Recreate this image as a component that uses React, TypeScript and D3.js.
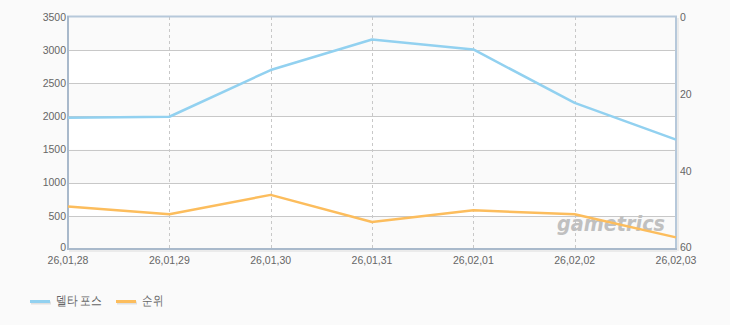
import React from "react";
import * as d3 from "d3";

const categories = ["26,01,28", "26,01,29", "26,01,30", "26,01,31", "26,02,01", "26,02,02", "26,02,03"];
const deltaForce = [1980, 1995, 2700, 3160, 3010, 2205, 1650];
const rank = [49, 51, 46, 53, 50, 51, 57];
const leftTicks = [0, 500, 1000, 1500, 2000, 2500, 3000, 3500];
const rightTicks = [0, 20, 40, 60];
const seriesNames = ["델타 포스", "순위"];

const W = 730, H = 325;
const L = 68, R = 676, T = 17, B = 249;
const FONT = "'Liberation Sans', Arial, sans-serif";
const BLUE = "#92d1f0";
const ORANGE = "#fcbd5d";

export default function App() {
  const x = d3.scalePoint<string>().domain(categories).range([L, R]);
  const yL = d3.scaleLinear().domain([0, 3500]).range([B, T]);
  const yR = d3.scaleLinear().domain([0, 60]).range([T, B]);
  const lineL = d3.line<number>().x((_, i) => x(categories[i])!).y(d => yL(d));
  const lineR = d3.line<number>().x((_, i) => x(categories[i])!).y(d => yR(d));

  const bands = leftTicks.slice(0, -1).map((t, i) => ({ y0: yL(leftTicks[i + 1]), y1: yL(t), i }));

  return (
    <svg width={W} height={H} style={{ position: "absolute", left: 0, top: 0, background: "#fafafa" }} fontFamily={FONT}>
      <rect x={0} y={0} width={W} height={H} fill="#fafafa" />
      {bands.map(b => (
        <rect key={b.i} x={L} y={b.y0} width={R - L} height={b.y1 - b.y0}
          fill={b.i % 2 === 0 ? "#fafafa" : "#ffffff"} />
      ))}
      {leftTicks.slice(1, -1).map(t => (
        <line key={t} x1={L} x2={R} y1={Math.round(yL(t)) + 0.5} y2={Math.round(yL(t)) + 0.5} stroke="#c8c8c8" strokeWidth={1} />
      ))}
      {categories.slice(1, -1).map(c => (
        <line key={c} x1={Math.round(x(c)!) + 0.5} x2={Math.round(x(c)!) + 0.5} y1={T} y2={B}
          stroke="#c8c8c8" strokeWidth={1} strokeDasharray="3,3" />
      ))}
      {/* watermark */}
      <text x={557} y={231} fontSize={22} fontStyle="italic" fontWeight="bold" fill="#c0c0c0"
        textLength={108} lengthAdjust="spacingAndGlyphs" fontFamily="'DejaVu Sans', sans-serif">gametrics</text>
      {/* frame with shadow */}
      <line x1={L + 1} x2={R + 1} y1={B + 2} y2={B + 2} stroke="#dcdcdc" strokeWidth={1} />
      <line x1={R + 2} x2={R + 2} y1={T + 1} y2={B + 2} stroke="#dcdcdc" strokeWidth={1} />
      <rect x={L} y={T - 0.5} width={R - L} height={B - T + 0.5} fill="none" stroke="#b6c8da" strokeWidth={2} />
      <line x1={L - 1} x2={R + 1} y1={B} y2={B} stroke="#a9b9cb" strokeWidth={2} />
      <line x1={L} x2={L} y1={T - 1} y2={B + 1} stroke="#a9b9cb" strokeWidth={2} />
      {/* series */}
      <path d={lineL(deltaForce)!} fill="none" stroke={BLUE} strokeWidth={2.5} strokeLinejoin="round" />
      <path d={lineR(rank)!} fill="none" stroke={ORANGE} strokeWidth={2.5} strokeLinejoin="round" />
      {/* left axis labels */}
      {leftTicks.map(t => (
        <text key={t} x={66} y={yL(t)} dy={t === 0 ? "0.2em" : "0.35em"} textAnchor="end" fontSize={10.5} fill="#666">{t}</text>
      ))}
      {/* right axis labels */}
      {rightTicks.map(t => (
        <text key={t} x={680} y={yR(t)} dy={t === 60 ? "0.2em" : "0.35em"} textAnchor="start" fontSize={10.5} fill="#666">{t}</text>
      ))}
      {/* x axis labels */}
      {categories.map(c => (
        <text key={c} x={x(c)} y={264} textAnchor="middle" fontSize={10.5} fill="#666">{c}</text>
      ))}
      {/* legend */}
      <line x1={31} x2={51} y1={303} y2={303} stroke="#e0e0e0" strokeWidth={3} />
      <line x1={30} x2={50} y1={301.5} y2={301.5} stroke={BLUE} strokeWidth={3} />
      <text x={56} y={304.5} fontSize={13} fill="#666" textLength={46} lengthAdjust="spacingAndGlyphs">{seriesNames[0]}</text>
      <line x1={117} x2={137} y1={303} y2={303} stroke="#e0e0e0" strokeWidth={3} />
      <line x1={116} x2={136} y1={301.5} y2={301.5} stroke={ORANGE} strokeWidth={3} />
      <text x={142} y={304.5} fontSize={13} fill="#666" textLength={21} lengthAdjust="spacingAndGlyphs">{seriesNames[1]}</text>
    </svg>
  );
}
